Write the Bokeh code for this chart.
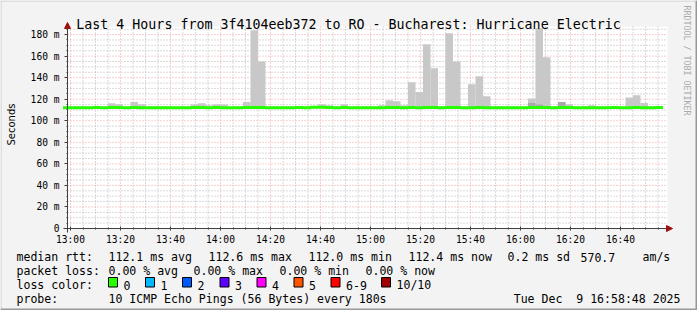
import math
import pandas as pd
from bokeh.plotting import figure
from bokeh.models import (FixedTicker, Label, BoxAnnotation, Arrow, NormalHead,
                          ColumnDataSource, LinearAxis, DatetimeAxis)
from bokeh.embed import file_html
from bokeh.resources import INLINE

# ---------------- data ----------------
title_text = "Last 4 Hours from 3f4104eeb372 to RO - Bucharest: Hurricane Electric"
window_start = "2025-12-09 12:58:48"
window_end = "2025-12-09 16:58:48"
first_step = "2025-12-09 12:57:00"
step_minutes = 3

# median rtt (ms) per 3-minute step, 12:57 ... 16:54
median_rtt = [
    112.1, 112.1, 112.0, 112.1, 112.2, 112.1, 112.3, 112.2, 112.1, 112.2,
    112.1, 112.0, 112.1, 112.1, 112.0, 112.1, 112.1, 112.2, 112.3, 112.1,
    112.2, 112.1, 112.0, 112.1, 112.2, 112.3, 112.2, 112.1, 112.0, 112.1,
    112.1, 112.2, 112.1, 112.5, 112.6, 112.2, 112.1, 112.2, 112.1, 112.0,
    112.1, 112.1, 112.1, 112.2, 112.2, 112.1, 112.3, 112.0, 112.2, 112.2,
    112.1, 112.3, 112.2, 112.1, 112.1, 112.2, 112.1, 112.0, 112.1, 112.1,
    112.0, 112.1, 112.2, 112.3, 112.2, 112.1, 112.3, 112.2, 112.1, 112.0,
    112.1, 112.1, 112.0, 112.4, 112.1, 112.1, 112.2, 112.1, 112.1, 112.4,
]
# highest ping (ms) per step (top of the smoke)
smoke_max = [
    113.2, 113.2, 113.2, 113.2, 113.2, 113.2, 116.2, 115.3, 113.2, 117.4,
    115.3, 113.2, 113.2, 113.2, 113.2, 113.2, 113.2, 115.0, 116.2, 114.4,
    115.3, 115.0, 113.2, 113.2, 117.4, 184.0, 155.0, 113.2, 113.2, 113.2,
    113.2, 113.2, 113.2, 113.2, 115.3, 114.4, 113.2, 115.3, 113.2, 113.2,
    113.2, 113.2, 114.4, 119.0, 118.1, 114.4, 135.7, 126.7, 171.0, 148.7,
    113.2, 181.2, 155.0, 113.2, 133.9, 141.3, 122.7, 113.2, 113.2, 113.2,
    113.2, 113.2, 120.6, 185.8, 158.9, 113.2, 117.4, 115.3, 113.2, 113.2,
    114.4, 113.2, 113.2, 113.7, 113.2, 121.5, 123.7, 116.5, 113.2, 113.7,
]
# denser smoke (ms) where several pings cluster
smoke_dense = [None] * 62 + [116.5, 115.0, None, None, 117.4] + [None] * 13

x_tick_labels = ["13:00", "13:20", "13:40", "14:00", "14:20", "14:40",
                 "15:00", "15:20", "15:40", "16:00", "16:20", "16:40"]
y_ticks = [0, 20, 40, 60, 80, 100, 120, 140, 160, 180]
y_tick_labels = ["0", "20 m", "40 m", "60 m", "80 m", "100 m", "120 m",
                 "140 m", "160 m", "180 m"]
y_max = 187.5
y_label = "Seconds"

rtt_row = [("median rtt:", 16), ("112.1 ms avg", 108), ("112.6 ms max", 208),
           ("112.0 ms min", 308), ("112.4 ms now", 408), ("0.2 ms sd", 507),
           ("570.7", 580), ("am/s", 642)]
loss_row = [("packet loss:", 16), ("0.00 % avg", 108), ("0.00 % max", 193),
            ("0.00 % min", 279), ("0.00 % now", 365)]
loss_labels = ["0", "1", "2", "3", "4", "5", "6-9", "10/10"]
loss_colors = ["#26ff00", "#00b8ff", "#0059ff", "#5e00ff", "#ff00fe",
               "#ff5500", "#ff0000", "#a10000"]
loss_box_x = [108, 145, 182, 219.5, 256.5, 293.5, 330.5, 381]
probe_text = "10 ICMP Echo Pings (56 Bytes) every 180s"
stamp_parts = ["Tue Dec", "9 16:58:48 2025"]   # "Tue Dec  9 16:58:48 2025"
watermark = "RRDTOOL / TOBI OETIKER"

# ---------------- derived ----------------
def ms(ts):
    return pd.Timestamp(ts).value / 1e6

t0 = pd.Timestamp(first_step)
starts = [t0 + pd.Timedelta(minutes=step_minutes * i) for i in range(len(median_rtt))]
ends = [s + pd.Timedelta(minutes=step_minutes) for s in starts]

x0, x1 = ms(window_start), ms(window_end)
major_x = [ms("2025-12-09 " + s) for s in x_tick_labels]
minor_x = []
t = pd.Timestamp("2025-12-09 13:00")
while t < pd.Timestamp(window_end):
    v = ms(t)
    if v not in major_x:
        minor_x.append(v)
    t += pd.Timedelta(minutes=5)
minor_y = [v for v in range(5, 190, 5) if v not in y_ticks]

W, H = 697, 310
FL, FB, FT, FR = 67, 228, 26, 667          # plot canvas edges (pixels)
MONO = "DejaVu Sans Mono"
LEG = "11.55px"
CW = 6.95                                   # legend character width

ppx = (FR - FL) / (x1 - x0)
ppy = (FB - FT) / y_max

p = figure(width=W, height=H, x_axis_type=None, y_axis_type=None,
           x_range=(x0 - FL / ppx, x1 + (W - FR) / ppx),
           y_range=(-(H - FB) / ppy, y_max + FT / ppy),
           output_backend="svg", toolbar_location=None,
           min_border=0, min_border_left=0, min_border_right=0,
           min_border_top=0, min_border_bottom=0,
           background_fill_color="#f3f3f3", border_fill_color="#f3f3f3",
           outline_line_color=None)
p.xgrid.visible = False
p.ygrid.visible = False

# white canvas
p.quad(left=[x0], right=[x1], bottom=[0], top=[y_max], fill_color="white",
       line_color=None, level="underlay")

# grid lines
minor_col, major_col = "#b4b4b4", "#f2a0a0"
p.segment(x0=minor_x, x1=minor_x, y0=[0] * len(minor_x), y1=[y_max] * len(minor_x),
          line_color=minor_col, line_width=1, line_dash="1 2", level="underlay")
p.segment(x0=[x0] * len(minor_y), x1=[x1] * len(minor_y), y0=minor_y, y1=minor_y,
          line_color=minor_col, line_width=1, line_dash="1 2", level="underlay")
p.segment(x0=major_x, x1=major_x, y0=[0] * len(major_x), y1=[y_max] * len(major_x),
          line_color=major_col, line_width=1, line_dash="1 2", level="underlay")
p.segment(x0=[x0] * len(y_ticks), x1=[x1] * len(y_ticks), y0=y_ticks, y1=y_ticks,
          line_color=major_col, line_width=1, line_dash="1 2", level="underlay")

# smoke
src = ColumnDataSource(dict(left=starts, right=ends, bottom=median_rtt, top=smoke_max))
p.quad(left="left", right="right", bottom="bottom", top="top", source=src,
       fill_color="#c8c8c8", line_color=None)
dl, dr, db, dt = [], [], [], []
for s, e, m, d in zip(starts, ends, median_rtt, smoke_dense):
    if d is not None:
        dl.append(s); dr.append(e); db.append(m); dt.append(d)
p.quad(left=dl, right=dr, bottom=db, top=dt, fill_color="#a9a9a9", line_color=None)

# median line
p.step(x=starts + [ends[-1]], y=median_rtt + [median_rtt[-1]], mode="after",
       line_color="#26ff00", line_width=3)

# axes placed at fixed data locations
xax = DatetimeAxis(fixed_location=0, bounds=(x0, x1))
yax = LinearAxis(fixed_location=x0, bounds=(0, y_max))
p.add_layout(xax, "below")
p.add_layout(yax, "left")
xax.ticker = FixedTicker(ticks=major_x, minor_ticks=minor_x)
xax.major_label_overrides = {int(v): s for v, s in zip(major_x, x_tick_labels)}
yax.ticker = FixedTicker(ticks=y_ticks, minor_ticks=minor_y)
yax.major_label_overrides = {v: s for v, s in zip(y_ticks, y_tick_labels)}
for ax in (xax, yax):
    ax.axis_line_color = None
    ax.major_tick_line_color = "#404040"
    ax.minor_tick_line_color = "#404040"
    ax.major_label_text_font = MONO
    ax.major_label_text_font_size = "9.6px"
    ax.major_label_text_color = "black"
xax.major_tick_in = 2
xax.major_tick_out = 2
xax.minor_tick_in = 1
xax.minor_tick_out = 1
xax.major_label_standoff = 3
yax.major_tick_in = 0
yax.major_tick_out = 3
yax.minor_tick_in = 0
yax.minor_tick_out = 1
yax.major_label_standoff = 5

# axis lines with arrow heads
axis_col = "#404040"
arrow_col = "#a01010"
p.add_layout(Arrow(x_start=x0 - 4 / ppx, y_start=0, x_end=x1 + 5 / ppx, y_end=0,
                   line_color=axis_col, line_width=1,
                   end=NormalHead(size=6, fill_color=arrow_col, line_color=arrow_col)))
p.add_layout(Arrow(x_start=x0, y_start=-4 / ppy, x_end=x0, y_end=y_max + 4 / ppy,
                   line_color=axis_col, line_width=1,
                   end=NormalHead(size=6, fill_color=arrow_col, line_color=arrow_col)))

# ---------------- texts (screen units = canvas pixels from bottom-left) -----
def sy(cy):
    return H - cy

def text(t, cx, cy, size=LEG, align="left", baseline="alphabetic",
         angle=0.0, color="black", font=MONO):
    p.add_layout(Label(x=cx, y=sy(cy), x_units="screen", y_units="screen",
                       text=t, text_font=font, text_font_size=size,
                       text_align=align, text_baseline=baseline, angle=angle,
                       text_color=color))

text(title_text, 348, 24, size="13.3px", align="center")
text(y_label, 11, 124, size="10px", align="center", baseline="middle",
     angle=math.pi / 2, font="DejaVu Sans")
text(watermark, 686, 5, size="8.3px", align="left", baseline="middle",
     angle=-math.pi / 2, color="#aaaaaa")

rows_y = [256.5, 270.5, 284.5, 298.5]
for t_, x_ in rtt_row:
    text(t_, x_, rows_y[0])
for t_, x_ in loss_row:
    text(t_, x_, rows_y[1])
text("loss color:", 16, rows_y[2])
for lab, col, bx in zip(loss_labels, loss_colors, loss_box_x):
    p.add_layout(BoxAnnotation(left=bx, right=bx + 9,
                               top=sy(277), bottom=sy(286.5),
                               left_units="screen", right_units="screen",
                               top_units="screen", bottom_units="screen",
                               fill_color=col, fill_alpha=1.0,
                               line_color="black", line_width=1, line_alpha=1.0))
    text(lab, bx + 15, rows_y[2])
text("probe:", 16, rows_y[3])
text(probe_text, 108, rows_y[3])
stamp_start = 680 - CW * (len(stamp_parts[0]) + 2 + len(stamp_parts[1]))
text(stamp_parts[0], stamp_start, rows_y[3])
text(stamp_parts[1], stamp_start + CW * (len(stamp_parts[0]) + 2), rows_y[3])

# image frame shading
for l, r, tp, bt, c in [(0, W, 0, 1, "#cbcbcb"), (0, 1, 0, H, "#cbcbcb"),
                        (W - 2, W, 0, H, "#999999"), (0, W, H - 2, H, "#999999")]:
    p.add_layout(BoxAnnotation(left=l, right=r, top=sy(tp), bottom=sy(bt),
                               left_units="screen", right_units="screen",
                               top_units="screen", bottom_units="screen",
                               fill_color=c, fill_alpha=1.0, line_color=None))

open("out.html", "w").write(file_html(p, INLINE))
